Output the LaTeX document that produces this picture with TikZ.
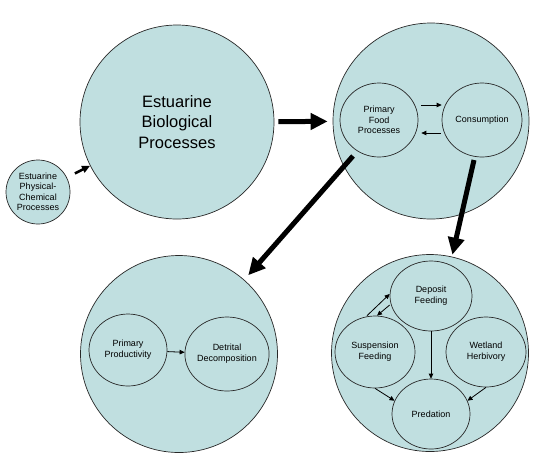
\documentclass[tikz,border=0pt]{standalone}
\usepackage{fontspec}
\setmainfont{Liberation Sans}
\usetikzlibrary{shapes.geometric,arrows.meta}
\definecolor{estfill}{RGB}{192,223,224}
\definecolor{estline}{RGB}{40,40,40}
\tikzset{
  bigcirc/.style={circle, draw=estline, fill=estfill, line width=0.7pt, inner sep=0pt, align=center},
  subproc/.style={ellipse, draw=estline, fill=estfill, line width=0.7pt, inner sep=0pt, align=center, font=\fontsize{9}{10.7}\selectfont},
  flow/.style={-{Triangle[length=17pt,width=16pt]}, line width=5pt},
  smallflow/.style={-{Triangle[length=8pt,width=7pt]}, line width=2.5pt},
  link/.style={-{Triangle[length=5pt,width=4.5pt]}, line width=0.8pt}
}
\begin{document}
\begin{tikzpicture}[x=1pt,y=-1pt]
\useasboundingbox (0,0) rectangle (534,472);
% outer circles
\node[bigcirc, minimum size=64pt, font=\fontsize{9}{10.5}\selectfont] (phys) at (38,192) {Estuarine\\Physical-\\Chemical\\Processes};
\node[bigcirc, minimum size=194pt, font=\fontsize{16.5}{20.5}\selectfont] (bio) at (177,122) {Estuarine\\Biological\\Processes};
\node[bigcirc, minimum size=196pt] (trophic) at (431,121) {};
\node[bigcirc, minimum size=197pt] (primprod) at (179,354) {};
\node[bigcirc, minimum size=197pt] (consumers) at (430,353) {};
% inner processes
\node[subproc, minimum width=78pt, minimum height=74pt] (food) at (379,120) {Primary\\Food\\Processes};
\node[subproc, minimum width=80pt, minimum height=74pt] (consump) at (482,120) {Consumption};
\node[subproc, minimum width=78pt, minimum height=72pt] (prod) at (128,350) {Primary\\Productivity};
\node[subproc, minimum width=78pt, minimum height=74pt] (detr) at (227,354) {Detrital\\Decomposition};
\node[subproc, minimum width=82pt, minimum height=70pt] (dep) at (431,296) {Deposit\\Feeding};
\node[subproc, minimum width=80pt, minimum height=72pt] (susp) at (375,352) {Suspension\\Feeding};
\node[subproc, minimum width=80pt, minimum height=70pt] (wet) at (486,352) {Wetland\\Herbivory};
\node[subproc, minimum width=78pt, minimum height=70pt] (pred) at (431,414) {Predation};
% thick arrows
\coordinate (webout1) at (353,156);
\coordinate (webout2) at (474,160);
\draw[smallflow, shorten <=9pt] (phys) -- (bio);
\draw[flow, shorten <=4pt, shorten >=5pt] (bio) -- (trophic);
\draw[flow, shorten >=6pt] (webout1) -- (primprod);
\draw[flow, shorten >=2pt] (webout2) -- (consumers);
% thin arrows
\draw[link, shorten <=3pt] ([yshift=15pt]food.east) -- ([yshift=15pt]consump.west);
\draw[link, shorten <=1pt, shorten >=3pt] ([yshift=-13pt]consump.west) -- ([yshift=-13pt]food.east);
\draw[link] (prod) -- (detr);
\draw[link] (dep) -- (pred);
\draw[link] (susp.south) -- (pred.160);
\draw[link] (wet.south) -- (pred.20);
\draw[link] ([xshift=-8pt]susp.north) -- ([yshift=2pt]dep.west);
\draw[link] ([yshift=-9pt]dep.west) -- ([xshift=2pt]susp.north);
\end{tikzpicture}
\end{document}
